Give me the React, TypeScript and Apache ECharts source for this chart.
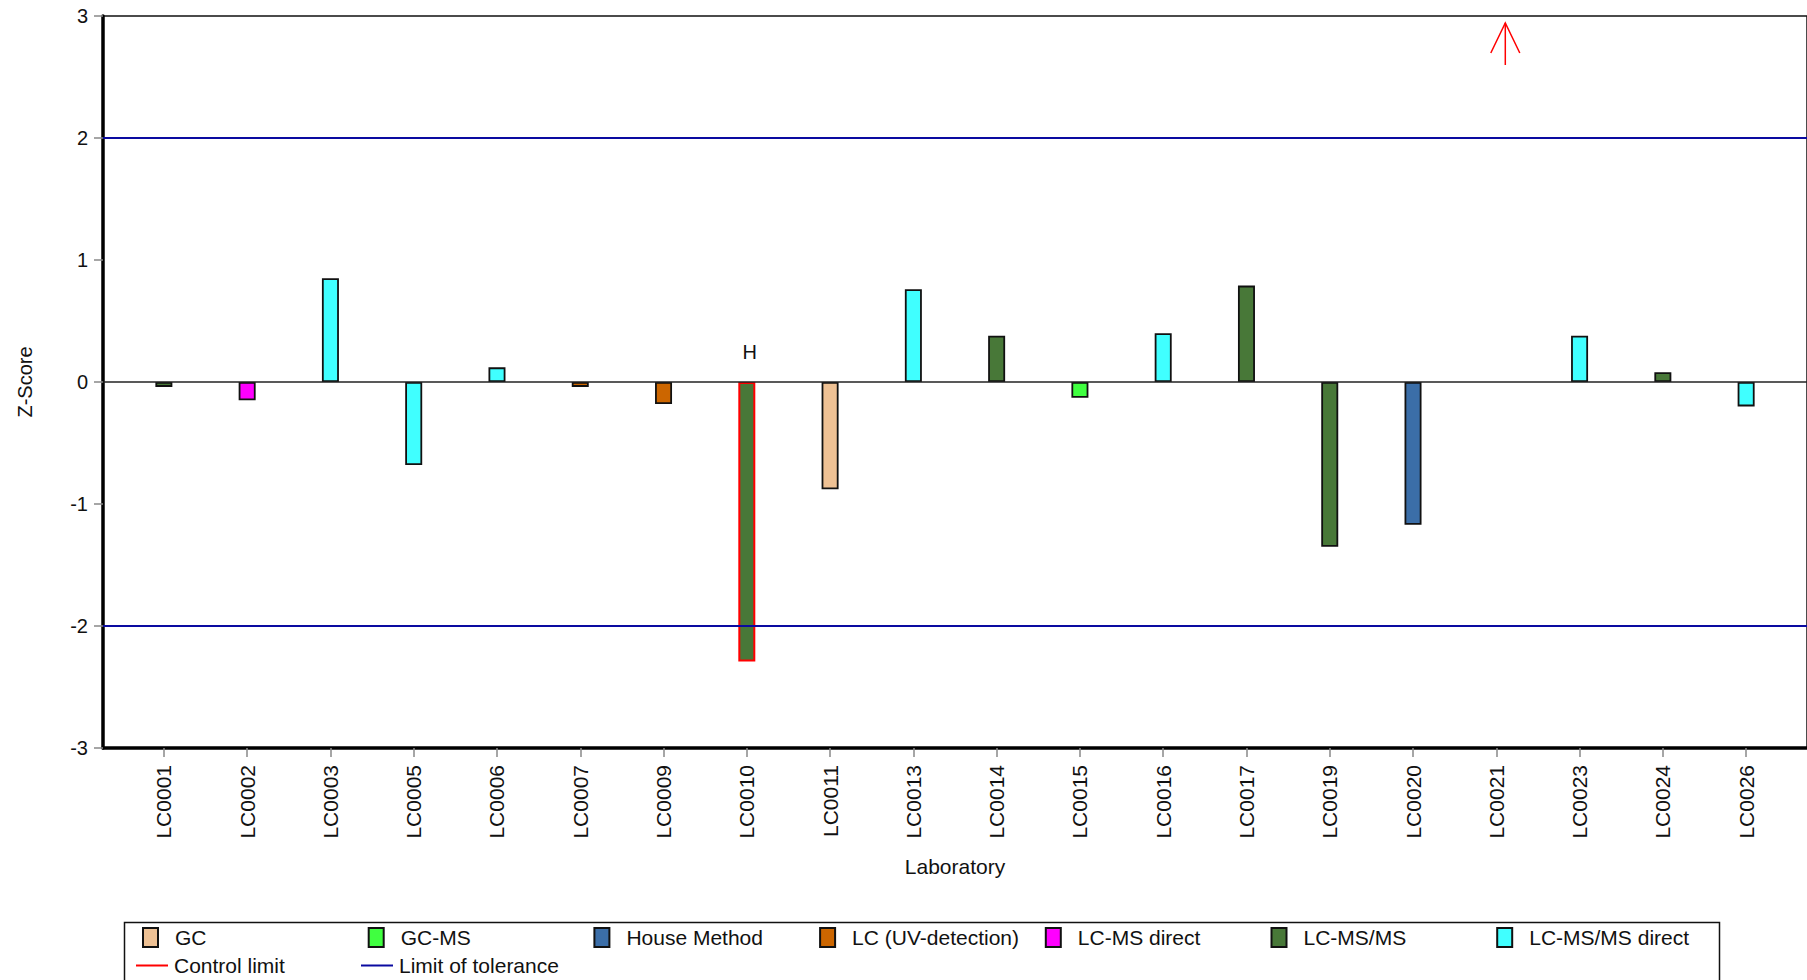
import React, { useEffect, useRef } from 'react';
import * as echarts from 'echarts';

// ---- Data ----
const labs = [
  'LC0001', 'LC0002', 'LC0003', 'LC0005', 'LC0006', 'LC0007', 'LC0009', 'LC0010', 'LC0011', 'LC0013',
  'LC0014', 'LC0015', 'LC0016', 'LC0017', 'LC0019', 'LC0020', 'LC0021', 'LC0023', 'LC0024', 'LC0026',
];
const labMethods = [
  'LC-MS/MS', 'LC-MS direct', 'LC-MS/MS direct', 'LC-MS/MS direct', 'LC-MS/MS direct',
  'LC (UV-detection)', 'LC (UV-detection)', 'LC-MS/MS', 'GC', 'LC-MS/MS direct',
  'LC-MS/MS', 'GC-MS', 'LC-MS/MS direct', 'LC-MS/MS', 'LC-MS/MS',
  'House Method', null, 'LC-MS/MS direct', 'LC-MS/MS', 'LC-MS/MS direct',
];
const zScores = [
  -0.04, -0.15, 0.85, -0.68, 0.12, -0.04, -0.18, -2.29, -0.88, 0.76,
  0.38, -0.13, 0.40, 0.79, -1.35, -1.17, null, 0.38, 0.08, -0.20,
];
const methods = ['GC', 'GC-MS', 'House Method', 'LC (UV-detection)', 'LC-MS direct', 'LC-MS/MS', 'LC-MS/MS direct'];
const methodColors = ['#EEC194', '#40FF40', '#3B6EA8', '#CC6600', '#FF00FF', '#487838', '#40FFFF'];
const aboveScaleLabs = ['LC0021'];
const controlLimitExceededLabs = ['LC0010'];
const flaggedLabs = ['LC0010'];
const flagTexts = ['H'];
const toleranceLimits = [-2, 2];
const zeroLine = [0];
const yMin = -3;
const yMax = 3;
const yInterval = 1;

const FONT = '"Liberation Sans", Arial, sans-serif';

function buildOption() {
  const idx = labs.map((_, i) => i);

  const barSeries = methods.map((m, mi) => ({
    type: 'bar',
    name: m,
    barWidth: 17,
    barGap: '-100%',
    itemStyle: { color: methodColors[mi], borderColor: '#111', borderWidth: 1.8 },
    data: labs
      .map((lab, j) => ({ lab, j }))
      .filter(({ j }) => labMethods[j] === m && zScores[j] !== null)
      .map(({ lab, j }) => ({
        value: [j, zScores[j]],
        itemStyle: controlLimitExceededLabs.includes(lab)
          ? { borderColor: '#ff0000', borderWidth: 2 }
          : undefined,
      })),
    z: 3,
  }));

  const legendDefs = [
    ...methods.map((m, i) => ({
      name: m, left: 142 + 225.7 * i, top: 927, icon: 'rect', itemWidth: 15, itemHeight: 19, pad: 12,
    })),
    { name: 'Control limit', left: 136, top: 955, icon: 'rect', itemWidth: 32, itemHeight: 2, pad: 1 },
    { name: 'Limit of tolerance', left: 361, top: 955, icon: 'rect', itemWidth: 32, itemHeight: 2, pad: 1 },
  ];

  return {
    animation: false,
    backgroundColor: '#ffffff',
    textStyle: { fontFamily: FONT },
    grid: {
      left: 103,
      top: 16,
      width: 1706,
      height: 732,
      show: true,
      borderColor: '#111',
      borderWidth: 1.5,
      backgroundColor: 'transparent',
    },
    legend: legendDefs.map((d) => ({
      data: [d.name],
      left: d.left,
      top: d.top,
      padding: 0,
      icon: d.icon,
      itemWidth: d.itemWidth,
      itemHeight: d.itemHeight,
      selectedMode: false,
      textStyle: { fontSize: 21, color: '#111', fontFamily: FONT, padding: [0, 0, 0, d.pad] },
    })),
    graphic: [
      {
        type: 'rect',
        shape: { x: 124.5, y: 922.5, width: 1595, height: 120 },
        style: { fill: 'none', stroke: '#111', lineWidth: 1.5 },
        silent: true,
        z: -1,
      },
    ],
    xAxis: {
      type: 'value',
      min: -0.731,
      max: 19.731,
      name: 'Laboratory',
      nameLocation: 'middle',
      nameGap: 108,
      nameTextStyle: { fontSize: 21, color: '#111', fontFamily: FONT },
      axisLine: { show: true, onZero: false, lineStyle: { color: '#000', width: 3.5 } },
      axisTick: { show: true, customValues: idx, length: 9, lineStyle: { color: '#888', width: 1.5 } },
      axisLabel: {
        customValues: idx,
        rotate: 90,
        margin: 17,
        fontSize: 21,
        color: '#111',
        fontFamily: FONT,
        formatter: (v: number) => labs[Math.round(v)] ?? '',
      },
      splitLine: { show: false },
    },
    yAxis: {
      type: 'value',
      min: yMin,
      max: yMax,
      interval: yInterval,
      name: 'Z-Score',
      nameLocation: 'middle',
      nameRotate: 90,
      nameGap: 68,
      nameTextStyle: { fontSize: 20, color: '#111', fontFamily: FONT },
      axisLine: { show: true, onZero: false, lineStyle: { color: '#000', width: 3.5 } },
      axisTick: { show: true, length: 9, lineStyle: { color: '#888', width: 1.5 } },
      axisLabel: { fontSize: 20, color: '#111', margin: 15, fontFamily: FONT },
      splitLine: { show: false },
    },
    series: [
      {
        type: 'line',
        name: 'baseline',
        data: [],
        markLine: {
          symbol: 'none',
          silent: true,
          label: { show: false },
          lineStyle: { color: '#222', width: 1.5, type: 'solid' },
          data: zeroLine.map((v) => ({ yAxis: v })),
        },
        z: 2,
      },
      ...barSeries,
      {
        type: 'line',
        name: 'Control limit',
        color: '#ff0000',
        data: [],
      },
      {
        type: 'line',
        name: 'Limit of tolerance',
        color: '#0a0aa0',
        data: [],
        markLine: {
          symbol: 'none',
          silent: true,
          label: { show: false },
          lineStyle: { color: '#0a0aa0', width: 2, type: 'solid' },
          data: toleranceLimits.map((v) => ({ yAxis: v })),
        },
        z: 4,
      },
      {
        type: 'custom',
        name: 'aboveScale',
        silent: true,
        clip: false,
        z: 6,
        data: aboveScaleLabs.map((l) => [labs.indexOf(l), yMax]),
        renderItem: (_params: any, api: any) => {
          const p = api.coord([api.value(0), api.value(1)]);
          const x = p[0] + 9;
          const y = p[1] + 7;
          return {
            type: 'group',
            children: [
              {
                type: 'line',
                shape: { x1: x, y1: y, x2: x, y2: y + 42 },
                style: { stroke: '#ff0000', lineWidth: 1.5 },
              },
              {
                type: 'polyline',
                shape: { points: [[x - 14.5, y + 30], [x, y], [x + 14.5, y + 30]] },
                style: { stroke: '#ff0000', fill: 'none', lineWidth: 1.5 },
              },
            ],
          };
        },
      },
      {
        type: 'custom',
        name: 'flags',
        silent: true,
        clip: false,
        z: 6,
        data: flaggedLabs.map((l, i) => [labs.indexOf(l), 0, i]),
        renderItem: (_params: any, api: any) => {
          const p = api.coord([api.value(0), api.value(1)]);
          return {
            type: 'text',
            x: p[0] + 3,
            y: p[1] - 30,
            style: {
              text: flagTexts[api.value(2)],
              fontSize: 20,
              fontFamily: FONT,
              fill: '#111',
              align: 'center',
              verticalAlign: 'middle',
            },
          };
        },
      },
    ],
  };
}

export default function App() {
  const ref = useRef<HTMLDivElement>(null);
  useEffect(() => {
    if (!ref.current) return;
    const chart = echarts.init(ref.current, null, { renderer: 'svg' });
    chart.setOption(buildOption() as any);
    return () => chart.dispose();
  }, []);
  return (
    <div
      ref={ref}
      style={{ position: 'fixed', left: 0, top: 0, width: 1807, height: 980, background: '#fff' }}
    />
  );
}
